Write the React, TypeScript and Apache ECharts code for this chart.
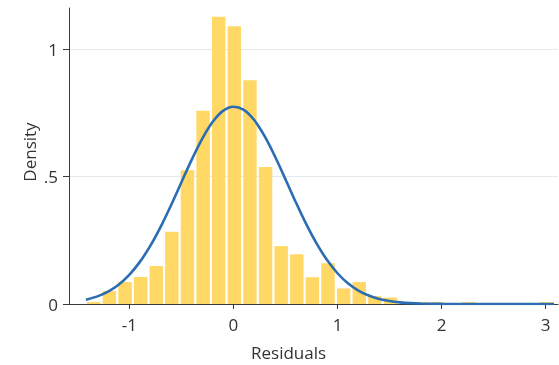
import React, { useEffect, useRef } from "react";
import * as echarts from "echarts";

// Histogram of residuals (density scale)
const binStart = -1.416;
const binWidth = 0.15;
const densities = [
  0.0075, 0.051, 0.086, 0.106, 0.149, 0.283, 0.525, 0.758, 1.127, 1.089,
  0.878, 0.537, 0.227, 0.195, 0.105, 0.16, 0.061, 0.086, 0.031, 0.025,
  0, 0.0075, 0.0075, 0, 0.0075, 0, 0, 0, 0, 0.0075,
];

// Normal density overlay
const curveX = [
  -1.416, -1.3, -1.2, -1.1, -1.0, -0.9, -0.8, -0.7, -0.6, -0.5, -0.4, -0.3,
  -0.2, -0.1, 0, 0.1, 0.2, 0.3, 0.4, 0.5, 0.6, 0.7, 0.8, 0.9, 1.0, 1.1, 1.2,
  1.3, 1.4, 1.5, 1.6, 1.7, 1.8, 2.0, 2.2, 2.5, 2.8, 3.08,
];
const curveY = [
  0.017, 0.031, 0.0496, 0.0768, 0.1145, 0.1642, 0.2267, 0.3016, 0.3865,
  0.4767, 0.5664, 0.648, 0.7139, 0.7575, 0.7739, 0.7615, 0.7215, 0.6583,
  0.5785, 0.4895, 0.3988, 0.313, 0.2365, 0.1721, 0.1206, 0.0814, 0.0529,
  0.0331, 0.02, 0.0116, 0.0065, 0.0035, 0.0018, 0.0004, 0.0001, 0, 0, 0,
];

const xTicks = [-1, 0, 1, 2, 3];
const xTickLabels = ["-1", "0", "1", "2", "3"];
const yTicks = [0, 0.5, 1];
const yTickLabels = ["0", ".5", "1"];

const FONT = "'Open Sans', sans-serif";

export default function App() {
  const ref = useRef<HTMLDivElement>(null);
  useEffect(() => {
    if (!ref.current) return;
    const chart = echarts.init(ref.current, undefined, { renderer: "svg" });
    const barData = densities.map((d, i) => [
      binStart + i * binWidth,
      binStart + (i + 1) * binWidth,
      d,
    ]);
    chart.setOption({
      animation: false,
      grid: { left: 69, right: 1, top: 8, bottom: 61 },
      xAxis: {
        type: "value",
        min: -1.579,
        max: 3.118,
        axisLine: {
          show: true,
          onZero: false,
          lineStyle: { color: "#3a3a3a", width: 1 },
        },
        axisTick: {
          show: true,
          length: 5,
          customValues: xTicks,
          lineStyle: { color: "#3a3a3a" },
        },
        axisLabel: {
          customValues: xTicks,
          formatter: (v: number) => xTickLabels[xTicks.indexOf(v)] ?? "",
          color: "#333",
          fontFamily: FONT,
          fontSize: 17,
          margin: 12,
        },
        splitLine: { show: false },
      },
      yAxis: {
        type: "value",
        min: 0,
        max: 1.161,
        interval: 0.5,
        axisLine: {
          show: true,
          onZero: false,
          lineStyle: { color: "#3a3a3a", width: 1 },
        },
        axisTick: {
          show: true,
          length: 6,
          customValues: yTicks,
          lineStyle: { color: "#3a3a3a" },
        },
        axisLabel: {
          customValues: yTicks,
          formatter: (v: number) => yTickLabels[yTicks.indexOf(v)] ?? "",
          color: "#333",
          fontFamily: FONT,
          fontSize: 17,
          margin: 11,
        },
        splitLine: {
          show: true,
          showMinLine: false,
          lineStyle: { color: "#e2eaed", width: 1 },
        },
      },
      graphic: [
        {
          type: "text",
          left: 251,
          top: 344,
          style: {
            text: "Residuals",
            fill: "#333",
            font: `17px ${FONT}`,
          },
        },
        {
          type: "text",
          x: 21,
          y: 152,
          rotation: Math.PI / 2,
          style: {
            text: "Density",
            fill: "#333",
            font: `17px ${FONT}`,
            align: "center",
            verticalAlign: "top",
          },
        },
      ],
      series: [
        {
          type: "custom",
          z: 2,
          data: barData,
          encode: { x: [0, 1], y: 2 },
          renderItem: (params: any, api: any) => {
            const x0 = api.value(0);
            const x1 = api.value(1);
            const h = api.value(2);
            if (!h) return null;
            const pTop = api.coord([x0, h]);
            const pBot = api.coord([x1, 0]);
            return {
              type: "rect",
              shape: {
                x: pTop[0] + 1.1,
                y: pTop[1],
                width: pBot[0] - pTop[0] - 2.2,
                height: pBot[1] - pTop[1],
              },
              style: { fill: "#ffd865" },
            };
          },
        },
        {
          type: "line",
          z: 3,
          data: curveX.map((x, i) => [x, curveY[i]]),
          showSymbol: false,
          smooth: 0.3,
          lineStyle: { color: "#2b6cb3", width: 2.6 },
        },
      ],
    });
    return () => chart.dispose();
  }, []);
  return (
    <div
      ref={ref}
      style={{ position: "fixed", left: 0, top: 0, width: 559, height: 365 }}
    />
  );
}
